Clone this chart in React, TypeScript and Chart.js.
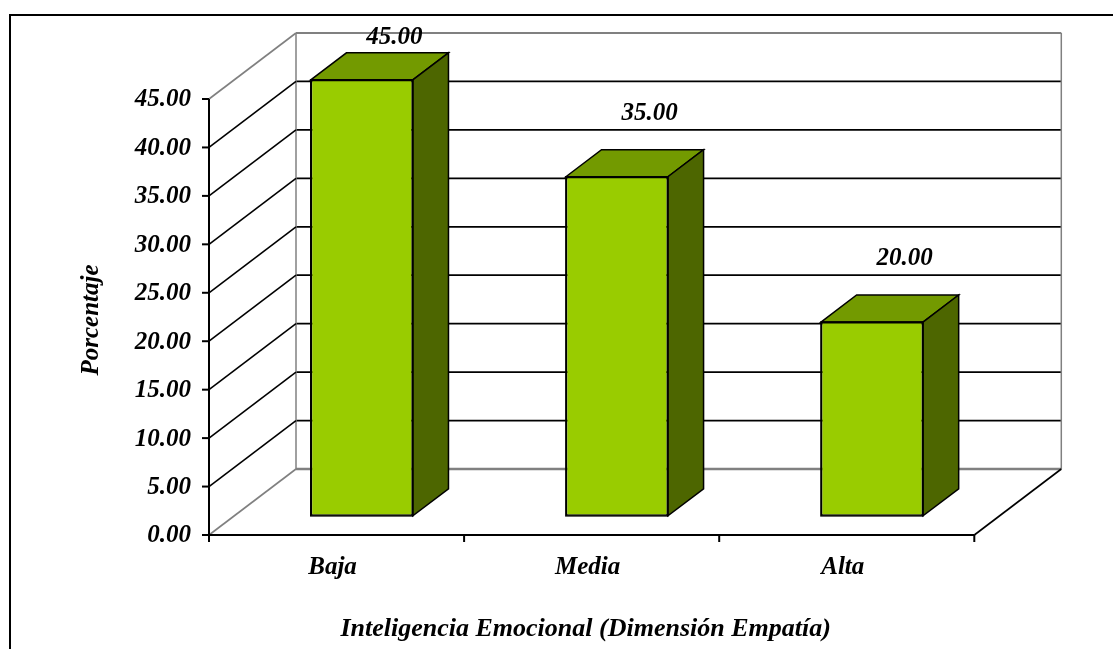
import { useEffect, useRef } from "react";
import { Chart, registerables } from "chart.js";

Chart.register(...registerables);

// Data
const categories = ["Baja", "Media", "Alta"];
const percentages = [45, 35, 20];
const yTickValues = [0, 5, 10, 15, 20, 25, 30, 35, 40, 45];
const xAxisTitle = "Inteligencia Emocional (Dimensión Empatía)";
const yAxisTitle = "Porcentaje";

// Layout and style
const W = 1113;
const H = 649;
const FONT = "italic bold 25px 'Liberation Serif', 'Times New Roman', serif";
const TITLE_FONT = "italic bold 26px 'Liberation Serif', 'Times New Roman', serif";
const FACE = "#99CC00";
const TOP = "#739A00";
const SIDE = "#4D6600";
const GRAY = "#808080";
const INK = "#000000";
// oblique depth vector from the front plane to the back wall
const DEPTH = { x: 87, y: -66 };
// bars occupy this slice of the depth
const BAR_FRONT = 0.29;
const BAR_BACK = 0.7;
// front plane frame of the plot
const FRONT_LEFT = 209;
const FRONT_RIGHT = 974.3;
const FRONT_TOP = 99;
const FRONT_BOTTOM = 535;

const yMax = yTickValues[yTickValues.length - 1];

function line(
  ctx: CanvasRenderingContext2D,
  x1: number,
  y1: number,
  x2: number,
  y2: number,
  color: string,
  width: number
) {
  ctx.beginPath();
  ctx.moveTo(x1, y1);
  ctx.lineTo(x2, y2);
  ctx.strokeStyle = color;
  ctx.lineWidth = width;
  ctx.stroke();
}

// Geometry helpers built on the chart's scales: the chart area is the plane of
// the bar front faces; the axes sit in front of it and the wall behind it.
function planes(chart: any) {
  const a = chart.chartArea;
  const ys = chart.scales.y;
  const fdx = -BAR_FRONT * DEPTH.x;
  const fdy = -BAR_FRONT * DEPTH.y;
  const fx0 = a.left + fdx;
  const fx1 = a.right + fdx;
  const fy = (v: number) => ys.getPixelForValue(v) + fdy;
  const bx0 = fx0 + DEPTH.x;
  const bx1 = fx1 + DEPTH.x;
  const by = (v: number) => fy(v) + DEPTH.y;
  return { a, fdx, fdy, fx0, fx1, fy, bx0, bx1, by };
}

const box3d = {
  id: "box3d",
  beforeDraw(chart: any) {
    const ctx: CanvasRenderingContext2D = chart.ctx;
    ctx.save();
    ctx.fillStyle = "#ffffff";
    ctx.fillRect(0, 0, W, H);
    // outer frame (left and top edges)
    ctx.beginPath();
    ctx.moveTo(10, H + 5);
    ctx.lineTo(10, 15);
    ctx.lineTo(W + 5, 15);
    ctx.strokeStyle = INK;
    ctx.lineWidth = 2;
    ctx.stroke();
    ctx.restore();
  },
  beforeDatasetsDraw(chart: any) {
    const ctx: CanvasRenderingContext2D = chart.ctx;
    const { fx0, fx1, fy, bx0, bx1, by, fdx } = planes(chart);
    const xs = chart.scales.x;
    ctx.save();
    ctx.lineCap = "butt";

    // back wall gridlines
    yTickValues.forEach((v) => {
      if (v > 0 && v < yMax) line(ctx, bx0, by(v), bx1, by(v), INK, 1.8);
    });
    // back wall frame
    line(ctx, bx0, by(0), bx0, by(yMax), GRAY, 1.5);
    line(ctx, bx0, by(yMax), bx1, by(yMax), GRAY, 1.8);
    line(ctx, bx1, by(yMax), bx1, by(0), GRAY, 1.5);
    line(ctx, bx0, by(0), bx1, by(0), GRAY, 2.5);

    // side wall lines
    yTickValues.forEach((v) => {
      const edge = v === 0 || v === yMax;
      line(ctx, fx0, fy(v), bx0, by(v), edge ? GRAY : INK, 1.6);
    });
    // floor right edge
    line(ctx, fx1, fy(0), bx1, by(0), INK, 1.6);

    // value axis and category axis
    line(ctx, fx0, fy(yMax), fx0, fy(0) + 7, INK, 2);
    line(ctx, fx0, fy(0), fx1, fy(0), INK, 2);
    yTickValues.forEach((v) => line(ctx, fx0 - 7, fy(v), fx0, fy(v), INK, 2));
    const n = categories.length;
    const cw = (fx1 - fx0) / n;
    for (let i = 1; i <= n; i++) {
      line(ctx, fx0 + i * cw, fy(0), fx0 + i * cw, fy(0) + 7, INK, 2);
    }

    // tick labels
    ctx.fillStyle = INK;
    ctx.font = FONT;
    ctx.textAlign = "right";
    ctx.textBaseline = "middle";
    yTickValues.forEach((v) => ctx.fillText(v.toFixed(2), fx0 - 18, fy(v) + 1));
    ctx.textAlign = "center";
    ctx.textBaseline = "alphabetic";
    categories.forEach((c, i) => {
      ctx.fillText(c, xs.getPixelForValue(i) + fdx - 4, fy(0) + 39);
    });

    // axis titles
    ctx.font = TITLE_FONT;
    ctx.fillText(xAxisTitle, (fx0 + fx1) / 2 - 6, fy(0) + 101);
    ctx.save();
    ctx.translate(98, (fy(0) + fy(yMax)) / 2 + 3);
    ctx.rotate(-Math.PI / 2);
    ctx.font = FONT;
    ctx.textAlign = "center";
    ctx.fillText(yAxisTitle, 0, 0);
    ctx.restore();

    ctx.restore();
  },
  afterDatasetsDraw(chart: any) {
    const ctx: CanvasRenderingContext2D = chart.ctx;
    const { by } = planes(chart);
    const meta = chart.getDatasetMeta(0);
    const dx = (BAR_BACK - BAR_FRONT) * DEPTH.x;
    const dy = (BAR_BACK - BAR_FRONT) * DEPTH.y;
    ctx.save();
    ctx.lineJoin = "miter";
    meta.data.forEach((el: any, i: number) => {
      const { x, y, base, width } = el.getProps(["x", "y", "base", "width"], true);
      const l = x - width / 2;
      const r = x + width / 2;
      ctx.strokeStyle = INK;
      ctx.lineWidth = 1.5;
      // top face
      ctx.beginPath();
      ctx.moveTo(l, y);
      ctx.lineTo(l + dx, y + dy);
      ctx.lineTo(r + dx, y + dy);
      ctx.lineTo(r, y);
      ctx.closePath();
      ctx.fillStyle = TOP;
      ctx.fill();
      ctx.stroke();
      // right side face
      ctx.beginPath();
      ctx.moveTo(r, y);
      ctx.lineTo(r + dx, y + dy);
      ctx.lineTo(r + dx, base + dy);
      ctx.lineTo(r, base);
      ctx.closePath();
      ctx.fillStyle = SIDE;
      ctx.fill();
      ctx.stroke();
      // front face outline
      ctx.strokeRect(l, y, width, base - y);

      // value label above the back edge of the bar
      ctx.fillStyle = INK;
      ctx.font = FONT;
      ctx.textAlign = "center";
      ctx.textBaseline = "middle";
      const ly = Math.max(y + dy - 36, by(yMax) + 5);
      ctx.fillText(percentages[i].toFixed(2), x + dx - 3, ly);
    });
    ctx.restore();
  },
};

export default function App() {
  const canvasRef = useRef<HTMLCanvasElement | null>(null);

  useEffect(() => {
    const canvas = canvasRef.current;
    if (!canvas) return;
    const padLeft = FRONT_LEFT + BAR_FRONT * DEPTH.x;
    const padRight = W - (FRONT_RIGHT + BAR_FRONT * DEPTH.x);
    const padTop = FRONT_TOP + BAR_FRONT * DEPTH.y;
    const padBottom = H - (FRONT_BOTTOM + BAR_FRONT * DEPTH.y);
    const chart = new Chart(canvas, {
      type: "bar",
      data: {
        labels: categories,
        datasets: [
          {
            data: percentages,
            backgroundColor: FACE,
            borderColor: INK,
            borderWidth: 1.5,
            borderSkipped: false,
            barPercentage: 0.4,
            categoryPercentage: 1,
          },
        ],
      },
      options: {
        responsive: false,
        animation: false,
        events: [],
        devicePixelRatio: 1,
        layout: {
          padding: { left: padLeft, right: padRight, top: padTop, bottom: padBottom },
        },
        scales: {
          x: { type: "category", display: false, offset: true },
          y: { type: "linear", display: false, min: 0, max: yMax },
        },
        plugins: {
          legend: { display: false },
          tooltip: { enabled: false },
        },
      },
      plugins: [box3d],
    });
    return () => chart.destroy();
  }, []);

  return (
    <div style={{ position: "fixed", left: 0, top: 0, width: W, height: H, background: "#fff" }}>
      <canvas ref={canvasRef} width={W} height={H} style={{ display: "block" }} />
    </div>
  );
}
